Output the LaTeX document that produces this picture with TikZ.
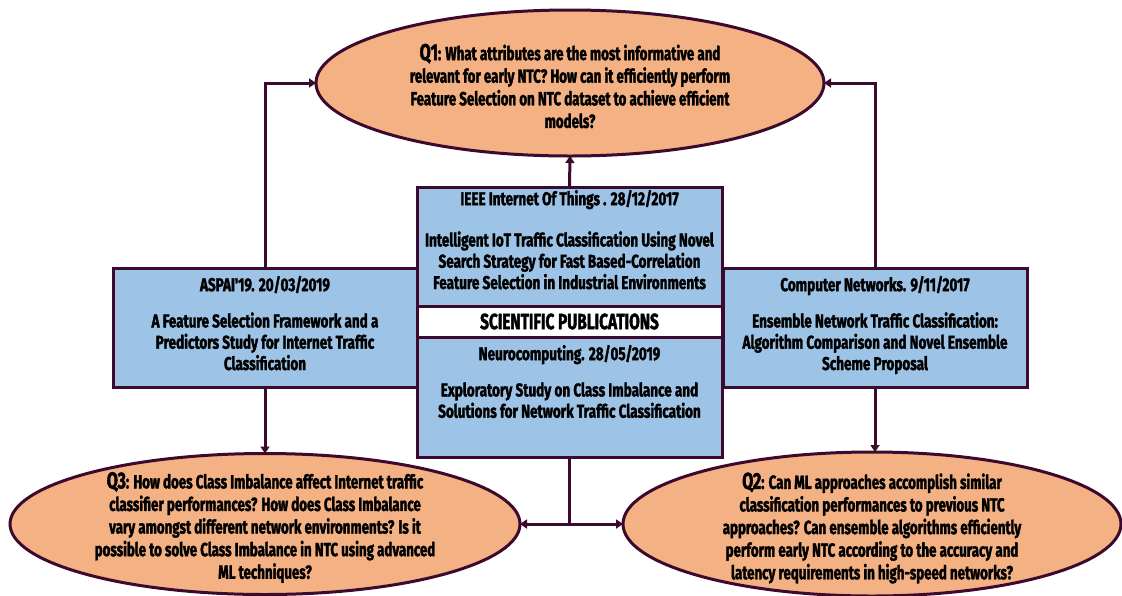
\documentclass[tikz,border=0pt]{standalone}
\usepackage{fontspec}
\usepackage{tikz}
\usetikzlibrary{shapes,arrows.meta,positioning,calc}
\newfontfamily\pubfont[FakeStretch=0.7,BoldFeatures={FakeBold=1.8}]{Fira Sans}
\newfontfamily\pubfontwide[FakeStretch=0.73,BoldFeatures={FakeBold=1.8}]{Fira Sans}
\definecolor{plum}{RGB}{60,10,46}
\definecolor{pubblue}{RGB}{157,195,230}
\definecolor{qorange}{RGB}{244,177,131}
\newcommand{\qlabel}[1]{{\fontsize{23}{22}\selectfont #1}}

\begin{document}
\begin{tikzpicture}[x=1pt,y=-1pt,node distance=0pt,outer sep=0pt,inner sep=0pt]
        \tikzset{pubbox/.style={shape=rectangle,draw=plum,line width=3pt,fill=pubblue,minimum width=305pt,minimum height=119pt}}
        \tikzset{pubtext/.style={align=center,font=\pubfontwide\bfseries\fontsize{18.5}{21.3}\selectfont}}
        \tikzset{question/.style={shape=ellipse,draw=plum,line width=3pt,fill=qorange}}
        \tikzset{qtext/.style={align=center,font=\pubfont\bfseries\fontsize{19}{22.6}\selectfont}}
        \tikzset{link/.style={draw=plum,line width=3pt,-{Triangle[length=7pt,width=9pt]}}}

        \useasboundingbox (0,0) rectangle (1122,595);

        % questions
        \node [question,minimum width=508pt,minimum height=146pt] (q1) at (570,83) {};
        \node [qtext,yshift=-3pt] at (q1) {\qlabel{Q1}: What attributes are the most informative and\\
            relevant for early NTC? How can it efficiently perform\\
            Feature Selection on NTC dataset to achieve efficient\\
            models?};
        \node [question,minimum width=510pt,minimum height=141pt] (q3) at (265,524) {};
        \node [qtext,yshift=-3.5pt] at (q3) {\qlabel{Q3}: How does Class Imbalance affect Internet traffic\\
            classifier performances? How does Class Imbalance\\
            vary amongst different network environments? Is it\\
            possible to solve Class Imbalance in NTC using advanced\\
            ML techniques?};
        \node [question,minimum width=498pt,minimum height=144pt] (q2) at (872,524) {};
        \node [qtext,yshift=-4pt] at (q2) {\qlabel{Q2}: Can ML approaches accomplish similar\\
            classification performances to previous NTC\\
            approaches? Can ensemble algorithms efficiently\\
            perform early NTC according to the accuracy and\\
            latency requirements in high-speed networks?};

        % side publications
        \node [pubbox,minimum width=304pt] (aspai) at (265,327.5) {};
        \node [pubtext,below=8pt of aspai.north] {ASPAI'19. 20/03/2019\\[15pt]
            A Feature Selection Framework and a\\
            Predictors Study for Internet Traffic\\
            Classification};
        \node [pubbox,minimum width=304pt] (cn) at (875,327.5) {};
        \node [pubtext,below=8pt of cn.north] {Computer Networks. 9/11/2017\\[15pt]
            Ensemble Network Traffic Classification:\\
            Algorithm Comparison and Novel Ensemble\\
            Scheme Proposal};

        % central publications
        \node [pubbox] (ieee) at (569.5,246.5) {};
        \node [pubtext,below=3pt of ieee.north] {IEEE Internet Of Things . 28/12/2017\\[20pt]
            Intelligent IoT Traffic Classification Using Novel\\
            Search Strategy for Fast Based-Correlation\\
            Feature Selection in Industrial Environments};
        \node [pubbox,fill=white,minimum height=31pt,below=of ieee] (sci) {};
        \node [font=\pubfont\bfseries\fontsize{22}{22}\selectfont] at (sci) {SCIENTIFIC PUBLICATIONS};
        \node [pubbox,minimum height=120pt,below=of sci] (neuro) {};
        \node [pubtext,below=8pt of neuro.north] {Neurocomputing. 28/05/2019\\[15pt]
            Exploratory Study on Class Imbalance and\\
            Solutions for Network Traffic Classification};

        % connectors
        \draw [link] (ieee.north) -- (q1.south);
        \draw [link] (aspai.north) |- (q1.west);
        \draw [link] (cn.north) |- (q1.east);
        \draw [link] (aspai.south) -- (q3.north -| aspai.south);
        \draw [link] (cn.south) -- (q2.north -| cn.south);
        \draw [link] (neuro.south) |- (q3.east);
        \draw [link] (neuro.south) |- (q2.west);
    \end{tikzpicture}
\end{document}
